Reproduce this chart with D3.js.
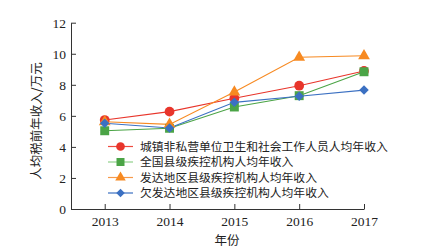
<!DOCTYPE html>
<html>
<head>
<meta charset="utf-8">
<script src="https://cdn.jsdelivr.net/npm/d3@7"></script>
<style>
  body { margin: 0; background: #fff; }
  text { fill: #222; }
</style>
</head>
<body>
<div id="chart"></div>
<script>
// data
const years = [2013, 2014, 2015, 2016, 2017];
const seriesNames = [
  "城镇非私营单位卫生和社会工作人员人均年收入",
  "全国县级疾控机构人均年收入",
  "发达地区县级疾控机构人均年收入",
  "欠发达地区县级疾控机构人均年收入"
];
const urbanHealth = [5.73, 6.27, 7.13, 7.94, 8.89];
const nationalCdc = [5.04, 5.2, 6.57, 7.3, 8.84];
const developedCdc = [5.62, 5.45, 7.53, 9.77, 9.87];
const lessDevelopedCdc = [5.52, 5.22, 6.87, 7.26, 7.66];
const yTicks = [0, 2, 4, 6, 8, 10, 12];

const colors = ["#e8352b", "#4ba446", "#f78a22", "#3b70c2"];
const legendLineColors = ["#ef4a3f", "#8fd18b", "#f79a4a", "#3b70c2"];
const symbols = [d3.symbolCircle, d3.symbolSquare, d3.symbolTriangle, d3.symbolSquare];
const symSizes = [75, 80, 60, 45];
const symRotate = [0, 0, 0, 45];
const allSeries = [urbanHealth, nationalCdc, developedCdc, lessDevelopedCdc];

const width = 421, height = 249;
const svg = d3.select("#chart").append("svg")
  .attr("width", width)
  .attr("height", height);

const x = d3.scaleLinear().domain([2012.48, 2017]).range([71, 364]);
const y = d3.scaleLinear().domain([0, 12]).range([209, 22.7]);

const numFont = "'Liberation Serif', 'DejaVu Serif', serif";
const cjkFont = "'Noto Sans CJK SC', sans-serif";

// x axis
const xAxis = svg.append("g")
  .attr("transform", "translate(0," + y(0) + ")")
  .call(d3.axisBottom(x).tickValues(years).tickFormat(d3.format("d")).tickSizeInner(-5).tickSizeOuter(0).tickPadding(7));
xAxis.selectAll("text").style("font-family", numFont).style("font-size", "13.5px").attr("fill", "#222");
xAxis.selectAll("line, path").attr("stroke", "#333");

// y axis
const yAxis = svg.append("g")
  .attr("transform", "translate(" + x.range()[0] + ",0)")
  .call(d3.axisLeft(y).tickValues(yTicks).tickSizeInner(-5).tickSizeOuter(0).tickPadding(5));
yAxis.selectAll("text").style("font-family", numFont).style("font-size", "13.5px").attr("fill", "#222");
yAxis.selectAll("line, path").attr("stroke", "#333");

// axis titles
svg.append("text")
  .attr("transform", "translate(41,121) rotate(-90)")
  .attr("text-anchor", "middle")
  .style("font-family", cjkFont)
  .style("font-size", "12.5px")
  .text("人均税前年收入/万元");

svg.append("text")
  .attr("x", 227)
  .attr("y", 245)
  .attr("text-anchor", "middle")
  .style("font-family", cjkFont)
  .style("font-size", "12.5px")
  .text("年份");

// lines
const line = d3.line()
  .x(function(d, i) { return x(years[i]); })
  .y(function(d) { return y(d); });

allSeries.forEach(function(vals, s) {
  svg.append("path")
    .attr("d", line(vals))
    .attr("fill", "none")
    .attr("stroke", colors[s])
    .attr("stroke-width", 1.1);
});

allSeries.forEach(function(vals, s) {
  svg.append("g").selectAll("path")
    .data(vals)
    .enter()
    .append("path")
    .attr("transform", function(d, i) {
      return "translate(" + x(years[i]) + "," + y(d) + ") rotate(" + symRotate[s] + ")";
    })
    .attr("d", d3.symbol().type(symbols[s]).size(symSizes[s]))
    .attr("fill", colors[s]);
});

// legend
const legend = svg.append("g").attr("transform", "translate(108,146.5)");
seriesNames.forEach(function(name, s) {
  const row = legend.append("g").attr("transform", "translate(0," + (s * 15.5) + ")");
  row.append("line")
    .attr("x1", 0).attr("x2", 25)
    .attr("stroke", legendLineColors[s])
    .attr("stroke-width", 1.2);
  row.append("path")
    .attr("transform", "translate(12.5,0) rotate(" + symRotate[s] + ")")
    .attr("d", d3.symbol().type(symbols[s]).size(symSizes[s] * 0.8))
    .attr("fill", colors[s]);
  row.append("text")
    .attr("x", 32)
    .attr("dy", "0.36em")
    .style("font-family", cjkFont)
    .style("font-size", "11.8px")
    .text(name);
});
</script>
</body>
</html>
